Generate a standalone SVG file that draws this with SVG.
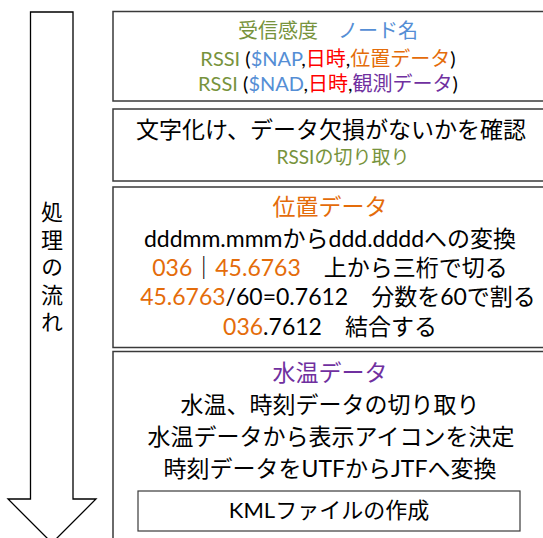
<svg xmlns="http://www.w3.org/2000/svg" width="543" height="538" viewBox="0 0 543 538">
<style>
.box{fill:#fff;stroke:#3a3a3a;stroke-width:1.5}
text{font-family:Lato,"Noto Sans CJK JP",sans-serif;text-anchor:middle;fill:#000}
.g{fill:#77933C}.b{fill:#558ED5}.r{fill:#FF0000}.o{fill:#E46C0A}.p{fill:#7030A0}
.s20{font-size:20px}.s23{font-size:23px}
</style>
<rect width="543" height="538" fill="#fff"/>
<g id="connectors">
<polygon id="flow-arrow" points="30.5,12 73,12 73,499 96,499 52,543 8,499 30.5,499" fill="#fff" stroke="#000" stroke-width="1.3"/>
</g>
<g id="flow-label">
<text x="52" y="201" writing-mode="vertical-rl" style="font-family:'Noto Sans CJK JP',sans-serif;font-size:22px;text-anchor:start;letter-spacing:5.5px">処理の流れ</text>
</g>
<g id="box1">
<rect class="box" x="113" y="11.5" width="440" height="89.5"/>
<text class="s20"><tspan x="328" y="38"><tspan class="g">受信感度</tspan>　<tspan class="b">ノード名</tspan></tspan><tspan x="328" y="66"><tspan class="g">RSSI</tspan> (<tspan class="b">$NAP</tspan>,<tspan class="r">日時</tspan>,<tspan class="o">位置データ</tspan>)</tspan><tspan x="328" y="91"><tspan class="g">RSSI</tspan> (<tspan class="b">$NAD</tspan>,<tspan class="r">日時</tspan>,<tspan class="p">観測データ</tspan>)</tspan></text>
</g>
<g id="box2">
<rect class="box" x="113" y="109" width="440" height="72"/>
<text class="s23"><tspan x="331" y="138">文字化け、データ欠損がないかを確認</tspan><tspan x="343" y="164" class="g" style="font-size:19px">RSSIの切り取り</tspan></text>
</g>
<g id="box3">
<rect class="box" x="113" y="187" width="440" height="160.5"/>
<text class="s23"><tspan x="330" y="215" class="o">位置データ</tspan><tspan x="330" y="247">dddmm.mmmからddd.ddddへの変換</tspan><tspan x="330" y="276"><tspan class="o">036</tspan>｜<tspan class="o">45.6763</tspan>　上から三桁で切る</tspan><tspan x="338" y="305"><tspan class="o">45.6763</tspan>/60=0.7612　分数を60で割る</tspan><tspan x="330" y="335"><tspan class="o">036</tspan>.7612　結合する</tspan></text>
</g>
<g id="box4">
<rect class="box" x="113" y="351.5" width="440" height="200"/>
<text class="s23"><tspan x="330" y="381" class="p">水温データ</tspan><tspan x="330" y="413">水温、時刻データの切り取り</tspan><tspan x="331" y="445">水温データから表示アイコンを決定</tspan><tspan x="330" y="477">時刻データをUTFからJTFへ変換</tspan></text>
</g>
<g id="kml">
<rect class="box" x="138" y="491" width="382" height="40" style="stroke-width:1.2"/>
<text x="329" y="518" style="font-size:22px">KMLファイルの作成</text>
</g>
</svg>
